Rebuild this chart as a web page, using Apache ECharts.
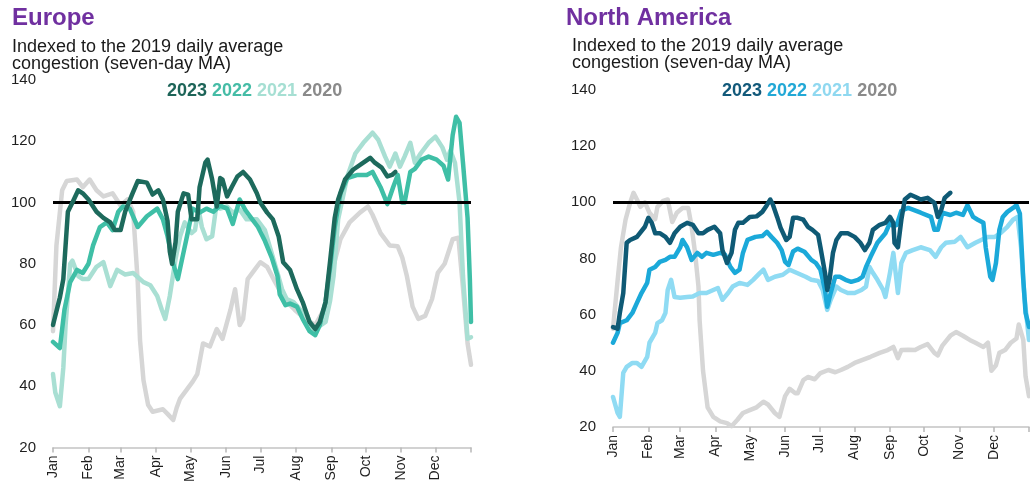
<!DOCTYPE html>
<html>
<head>
<meta charset="utf-8">
<script src="https://cdn.jsdelivr.net/npm/echarts@6/dist/echarts.min.js"></script>
<style>
  html, body { margin: 0; padding: 0; background: #ffffff; }
  #chart { width: 1030px; height: 485px; }
</style>
</head>
<body>
<div id="chart"></div>
<script>
// ---- Axis labels / ticks ----
const months = ['Jan','Feb','Mar','Apr','May','Jun','Jul','Aug','Sep','Oct','Nov','Dec'];
const monthStarts = [0,31,59,90,120,151,181,212,243,273,304,334];
const yearEnd = 365;
const yMin = 20, yMax = 140, yStep = 20;
const baseline = 100;
const years = ['2023','2022','2021','2020'];

// ---- Europe (day of year, index value) ----
const euDays2023 = [0,4,6,9,13,17,22,26,31,38,44,50,54,59,63,69,74,82,87,92,96,100,102,104,107,109,114,118,121,126,128,133,135,139,143,146,148,152,156,161,166,172,178,181,187,192,197,201,207,213,218,224,229,233,238,242,246,249,255,262,271,277,281,287,292,296,299];
const euVals2023 = [60,66,69,75,97,100,104,103,101,97,95,93.5,91,91,97,102.6,107,106.5,102.6,104,101,94,84,80,87,97,103,102.6,94.5,94.5,105,113,114,107.5,98.7,108,107.5,102,105,108.5,110,107.5,103,100,96.7,94.5,89,80.5,78,71.7,67.5,61,58.7,61,67.5,81,95,101,107.5,110.7,113,114.6,113,111.4,108.5,109,110];

const euDays2022 = [0,6,10,15,21,26,31,35,41,47,52,57,61,67,74,82,91,96,100,105,109,113,117,122,128,134,140,146,152,157,163,168,174,179,185,191,196,198,203,207,213,218,224,229,233,238,242,246,251,257,266,274,279,286,292,297,301,305,307,312,316,322,328,335,341,345,349,352,355,358,362,364,365];
const euVals2022 = [54.5,52.5,65,74,78,77,80,86,92,93.5,91,97,98.7,98,92,95.5,98,94.5,89,80,75,82,89,98,96.7,98,97,99,98,93,101,97.5,94.5,92,87.5,82,76,70,66.5,67,66,62,58,56.7,60,67.5,79,92,103,108,109,109,110,105,99.5,105,109,100,100,110,111,114,115,114,112,107.5,122,128,126,113,95,75,61];

const euDays2021 = [0,2,6,9,11,15,17,22,26,31,38,44,50,56,63,70,79,85,91,95,98,102,107,111,115,121,124,127,130,134,139,143,146,152,157,163,169,178,185,190,196,200,204,210,216,222,227,233,238,242,245,249,257,264,271,279,284,290,294,299,303,307,312,316,321,328,334,340,344,347,351,355,358,362,365];
const euVals2021 = [44,38,33.5,46,60,80,81,76,75,75,79,80.5,72.7,78,76.5,77,74,73,69.5,65,62,69.5,81.5,89,93.5,90,91,98,92,88,89,100,98,98.7,96.7,97.7,94.5,94.5,91,84.7,77,71.7,68.5,67.5,65,63,58.7,59.7,61,68,76,94.5,108.5,116,119.5,122.8,120.5,115,111.7,116,111.7,115,119.5,113,116,119.5,121.5,118,114,117,113,100,76,55.5,56];

const euDays2020 = [0,3,8,12,21,26,32,38,44,52,59,65,70,74,76,79,83,87,96,100,105,108,111,117,122,126,131,137,143,148,155,159,163,166,170,176,181,187,194,203,211,220,229,238,244,251,259,268,275,279,286,294,301,305,309,314,319,325,331,336,342,349,354,358,362,365];
const euVals2020 = [58,86,104,107,107.5,105,107.5,104,102,103,99,101,97,74,55,42,34,31.7,32.5,31,29,33,36,39,41.5,44,54,53,58.7,55.5,65,71.7,60,62,75,78,80.5,79,74,68,65,62,60,66,78,88,93.5,96.7,98.7,96,90,86,85.7,82,76,66,62,63,68.5,77,80,88,88.5,72,54,47];

// ---- North America ----
const naDays2023 = [0,4,6,9,12,15,21,28,31,34,37,41,46,50,54,59,65,70,75,79,83,89,94,96,100,104,107,110,114,120,126,131,135,138,140,144,147,152,155,158,162,167,171,175,180,182,186,188,190,193,196,200,206,212,217,221,225,228,234,239,243,246,247,250,253,256,261,265,270,276,282,285,288,291,296];
const naVals2023 = [55.6,55,60.6,67.7,85.6,86.6,87.7,91.3,94.5,92.7,89,89,87.7,85.6,89,91.3,92.7,92,89,89,90.2,91.3,89,83,78.4,82,90.2,92.7,92.7,94.8,95,96.6,99,101,99.5,94.8,91,86.6,87.7,94.5,94.5,93.8,91.3,90.2,88.4,84,74.9,68.8,72.4,82,86.6,89,89,87.7,85.6,83,85.6,90.2,92,92.7,94.8,92.7,85.6,84,93.8,101,102.7,102,101,101.6,99.8,94.8,97.3,101.6,103.4];

const naDays2022 = [0,4,6,12,17,21,25,30,32,37,41,46,50,54,59,61,65,69,74,78,82,88,94,98,103,107,111,114,118,125,131,135,139,144,148,151,154,158,162,168,174,178,182,186,188,191,195,199,204,209,215,219,222,226,232,239,243,246,249,253,259,270,279,282,285,289,296,301,307,311,316,320,325,327,331,333,336,339,342,346,351,354,357,360,362,365];
const naVals2022 = [50,53.5,57,58,60.6,64.2,67.7,71.3,76,77,78.8,79.5,80.6,80.6,84,86.6,84,79.5,82,80.6,82,81.3,82,81.5,77,74.9,76,82,86.6,87.7,88,89.5,87.7,85.6,83,78.8,77.7,82.5,83.5,82.4,79.5,78.4,76,68.8,62.8,67.7,73.5,73.5,72.4,71.7,72.4,73.5,77,80.6,85.6,89,92.7,91.5,92,97,98,96.3,94.8,90.2,90.2,96.3,95.5,96.3,95.5,99,94.8,93.8,92.7,84,73.5,72.4,78.4,90.2,94.8,96.6,98,99,96,72.4,60.6,55.6];

const naDays2021 = [0,4,6,9,12,17,21,25,30,32,37,39,43,46,48,51,54,59,65,70,76,82,88,92,96,101,105,111,118,123,129,132,136,142,149,155,161,169,174,180,184,188,191,196,200,206,212,218,222,225,228,232,237,239,243,246,247,250,253,257,263,270,278,283,288,292,300,305,311,318,323,329,335,340,346,351,355,358,361,365];
const naVals2021 = [30.7,25,23.6,39.3,41.4,42.8,42.8,41.4,45,50,53.5,57,58,60.6,68.8,72.4,66.3,66,66.3,66.5,67.7,67.7,68.8,69.5,65.3,67.7,70,71.3,70.6,72.4,74.9,76,72.4,73.5,74.2,76,74.9,73.5,72.4,72,68.8,61.7,65.3,70,68.8,67.7,67.7,68.8,70,77,74.9,72.4,68.8,66.3,74.9,82,78.4,67.7,78.4,82,83,84,83,80.6,84,85.6,86,87.7,84,85.6,86.6,87.7,87.7,89,91.3,93.8,94.8,84,66.3,51];

const naDays2020 = [0,4,7,11,15,18,21,24,28,32,37,39,44,48,52,56,61,66,69,72,75,76,79,83,88,94,100,104,109,114,120,126,132,136,142,146,151,155,160,162,167,171,177,182,189,195,200,206,212,219,226,234,241,246,250,253,259,265,270,276,282,285,289,296,301,307,313,318,325,329,332,336,339,344,349,354,356,360,362,365];
const naVals2020 = [55,72,84,93.8,99.8,103.4,101,98.4,100,96.3,94,98.4,100.5,101,93,96.3,98,98,91.3,82,70,58,40,27,23.6,22,21.4,20.3,22.5,25,26,27,29,28,25,23.6,31,33.6,32,32,36.7,37.8,37,39.2,40.3,39.5,40.3,41.4,42.8,43.9,45,46.4,47.4,48.5,44.5,47.4,47.5,47.4,48.5,49.5,46.4,45.5,49,52.5,53.8,52.5,51,50,48.5,50,40,42,46.4,47.4,50,51.5,56.5,51,38,31];

// ---- styling ----
const FONT = "'Liberation Sans', Arial, sans-serif";
const euColors = { '2023': '#1d6a5c', '2022': '#3fbfa6', '2021': '#a9dfd3', '2020': '#d6d6d6' };
const naColors = { '2023': '#0f5a75', '2022': '#1ba9d9', '2021': '#8fdbf3', '2020': '#d6d6d6' };
const euLegendColors = { '2023': '#1d6458', '2022': '#45bca6', '2021': '#a6dfd3', '2020': '#8a8a8a' };
const naLegendColors = { '2023': '#12597a', '2022': '#22a8d6', '2021': '#8fd8f0', '2020': '#8a8a8a' };

function pairs(days, vals) { return days.map((d, i) => [d, vals[i]]); }

function lineSeries(name, idx, days, vals, color, z) {
  return {
    name: name, type: 'line', xAxisIndex: idx, yAxisIndex: idx,
    data: pairs(days, vals), symbol: 'none', z: z, silent: true,
    lineStyle: { color: color, width: 4.5, cap: 'round', join: 'round' },
    animation: false
  };
}

function refSeries(idx) {
  return {
    type: 'line', xAxisIndex: idx, yAxisIndex: idx, data: [], z: 1, silent: true,
    markLine: {
      silent: true, symbol: ['none', 'none'], label: { show: false },
      lineStyle: { color: '#000000', width: 3, type: 'solid' },
      data: [{ yAxis: baseline }], animation: false
    }
  };
}

function xAxisDef(idx) {
  return {
    type: 'value', gridIndex: idx, min: 0, max: yearEnd,
    splitLine: { show: false },
    axisLine: { show: true, lineStyle: { color: '#c4c4c4', width: 1.5 } },
    axisTick: { show: true, customValues: monthStarts.concat([yearEnd]), length: 5, lineStyle: { color: '#b8b8b8', width: 1.5 } },
    axisLabel: {
      customValues: monthStarts, rotate: 90, margin: 8, hideOverlap: false,
      fontSize: 14, color: '#1f1f1f', fontFamily: FONT,
      formatter: v => months[monthStarts.indexOf(v)]
    }
  };
}

function yAxisDef(idx) {
  return {
    type: 'value', gridIndex: idx, min: yMin, max: yMax, interval: yStep,
    splitLine: { show: false }, axisLine: { show: false }, axisTick: { show: false },
    axisLabel: { fontSize: 15, color: '#1f1f1f', fontFamily: FONT, margin: 17 }
  };
}

function legendText(colors) {
  return years.map((y, i) => '{y' + i + '|' + y + '}').join(' ');
}
function legendRich(colors) {
  const r = {};
  years.forEach((y, i) => { r['y' + i] = { fill: colors[y], fontWeight: 'bold', fontSize: 18, fontFamily: FONT }; });
  return r;
}

const chart = echarts.init(document.getElementById('chart'), null, { renderer: 'canvas' });
chart.setOption({
  animation: false,
  backgroundColor: '#ffffff',
  grid: [
    { left: 53, top: 80, width: 418, height: 369 },
    { left: 613, top: 90, width: 416, height: 337 }
  ],
  xAxis: [xAxisDef(0), xAxisDef(1)],
  yAxis: [yAxisDef(0), yAxisDef(1)],
  series: [
    refSeries(0),
    lineSeries('2020', 0, euDays2020, euVals2020, euColors['2020'], 2),
    lineSeries('2021', 0, euDays2021, euVals2021, euColors['2021'], 3),
    lineSeries('2022', 0, euDays2022, euVals2022, euColors['2022'], 4),
    lineSeries('2023', 0, euDays2023, euVals2023, euColors['2023'], 5),
    refSeries(1),
    lineSeries('2020', 1, naDays2020, naVals2020, naColors['2020'], 2),
    lineSeries('2021', 1, naDays2021, naVals2021, naColors['2021'], 3),
    lineSeries('2022', 1, naDays2022, naVals2022, naColors['2022'], 4),
    lineSeries('2023', 1, naDays2023, naVals2023, naColors['2023'], 5)
  ],
  graphic: [
    { type: 'text', left: 12, top: 6, style: { text: 'Europe', fill: '#7030a0', font: 'bold 24px ' + FONT } },
    { type: 'text', left: 12, top: 38, style: { text: 'Indexed to the 2019 daily average\ncongestion (seven-day MA)', fill: '#1a1a1a', fontSize: 18, fontFamily: FONT, lineHeight: 17 } },
    { type: 'text', left: 167, top: 82, style: { text: legendText(euLegendColors), rich: legendRich(euLegendColors), fontSize: 18, fontWeight: 'bold', fontFamily: FONT } },
    { type: 'text', left: 566, top: 6, style: { text: 'North America', fill: '#7030a0', font: 'bold 24px ' + FONT } },
    { type: 'text', left: 572, top: 37, style: { text: 'Indexed to the 2019 daily average\ncongestion (seven-day MA)', fill: '#1a1a1a', fontSize: 18, fontFamily: FONT, lineHeight: 17 } },
    { type: 'text', left: 722, top: 82, style: { text: legendText(naLegendColors), rich: legendRich(naLegendColors), fontSize: 18, fontWeight: 'bold', fontFamily: FONT } }
  ]
});
</script>
</body>
</html>
